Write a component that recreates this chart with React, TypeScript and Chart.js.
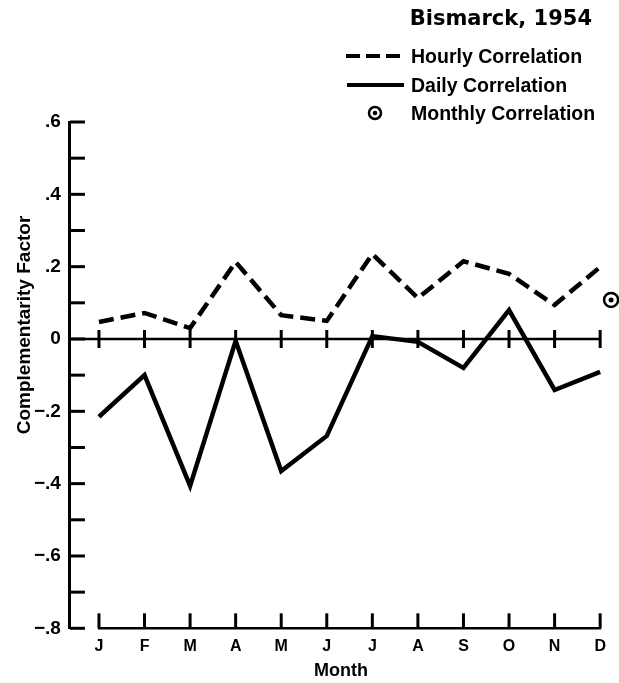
import React, { useEffect, useRef } from "react";
import { Chart, registerables } from "chart.js";

Chart.register(...registerables);

const months = ["J", "F", "M", "A", "M", "J", "J", "A", "S", "O", "N", "D"];
const hourly = [0.047, 0.072, 0.03, 0.213, 0.066, 0.05, 0.235, 0.113, 0.215, 0.18, 0.094, 0.199];
const daily = [-0.215, -0.1, -0.406, -0.005, -0.365, -0.268, 0.008, -0.008, -0.08, 0.08, -0.141, -0.091];
const monthlyX = [11.24];
const monthlyY = [0.108];
const yLabelValues = [0.6, 0.4, 0.2, 0, -0.2, -0.4, -0.6, -0.8];
const yLabelTexts = [".6", ".4", ".2", "0", "\u2212.2", "\u2212.4", "\u2212.6", "\u2212.8"];
const yMinorValues = [0.6, 0.5, 0.4, 0.3, 0.2, 0.1, 0, -0.1, -0.2, -0.3, -0.4, -0.5, -0.6, -0.7, -0.8];
const chartTitle = "Bismarck, 1954";
const legendLabels = ["Hourly Correlation", "Daily Correlation", "Monthly Correlation"];
const yTitle = "Complementarity Factor";
const xTitle = "Month";

const FAM = "'Liberation Sans', Arial, Helvetica, sans-serif";

const decorPlugin = {
  id: "decor",
  beforeDatasetsDraw(chart: any) {
    const { ctx, chartArea, scales } = chart;
    const x = scales.x;
    const y = scales.y;
    ctx.save();
    ctx.strokeStyle = "#000";
    ctx.lineCap = "butt";
    ctx.lineWidth = 3;
    yMinorValues.forEach((v) => {
      const py = y.getPixelForValue(v);
      ctx.beginPath();
      ctx.moveTo(chartArea.left, py);
      ctx.lineTo(chartArea.left + 15, py);
      ctx.stroke();
    });
    const y0 = y.getPixelForValue(0);
    const xStart = x.getPixelForValue(0);
    const xEnd = x.getPixelForValue(months.length - 1);
    ctx.lineWidth = 2.5;
    ctx.beginPath();
    ctx.moveTo(chartArea.left, y0);
    ctx.lineTo(xEnd, y0);
    ctx.stroke();
    ctx.lineWidth = 3;
    months.forEach((_, i) => {
      const px = x.getPixelForValue(i);
      ctx.beginPath();
      ctx.moveTo(px, y0 - 9);
      ctx.lineTo(px, y0 + 9);
      ctx.stroke();
    });
    const yb = y.getPixelForValue(-0.8);
    ctx.lineWidth = 2.5;
    ctx.beginPath();
    ctx.moveTo(xStart - 1, yb);
    ctx.lineTo(xEnd + 1, yb);
    ctx.stroke();
    ctx.lineWidth = 3;
    months.forEach((_, i) => {
      const px = x.getPixelForValue(i);
      ctx.beginPath();
      ctx.moveTo(px, yb);
      ctx.lineTo(px, yb - 15);
      ctx.stroke();
    });
    ctx.restore();
  },
  afterDraw(chart: any) {
    const { ctx } = chart;
    ctx.save();
    ctx.fillStyle = "#000";
    ctx.strokeStyle = "#000";
    ctx.font = "bold 21px 'DejaVu Sans', sans-serif";
    ctx.textAlign = "right";
    ctx.textBaseline = "alphabetic";
    ctx.fillText(chartTitle, 592, 25);
    ctx.font = `bold 19.5px ${FAM}`;
    ctx.textAlign = "left";
    const baselines = [63, 92, 120];
    legendLabels.forEach((t, i) => ctx.fillText(t, 411, baselines[i]));
    ctx.lineWidth = 4;
    ctx.setLineDash([14, 6]);
    ctx.beginPath();
    ctx.moveTo(346, 56);
    ctx.lineTo(404, 56);
    ctx.stroke();
    ctx.setLineDash([]);
    ctx.lineWidth = 4;
    ctx.beginPath();
    ctx.moveTo(347, 85);
    ctx.lineTo(404, 85);
    ctx.stroke();
    ctx.lineWidth = 2.5;
    ctx.beginPath();
    ctx.arc(375, 113, 6, 0, Math.PI * 2);
    ctx.stroke();
    ctx.beginPath();
    ctx.arc(375, 113, 2.3, 0, Math.PI * 2);
    ctx.fill();
    ctx.save();
    ctx.translate(29.5, 325);
    ctx.rotate(-Math.PI / 2);
    ctx.font = `bold 19px ${FAM}`;
    ctx.textAlign = "center";
    ctx.textBaseline = "alphabetic";
    ctx.fillText(yTitle, 0, 0);
    ctx.restore();
    ctx.restore();
  },
};

export default function App() {
  const ref = useRef<HTMLCanvasElement | null>(null);
  useEffect(() => {
    if (!ref.current) return;
    const chart = new Chart(ref.current, {
      type: "line",
      data: {
        datasets: [
          {
            label: legendLabels[0],
            data: hourly.map((v, i) => ({ x: i, y: v })),
            borderColor: "#000",
            borderWidth: 4.5,
            borderDash: [15, 7],
            pointRadius: 0,
            tension: 0,
            fill: false,
          },
          {
            label: legendLabels[1],
            data: daily.map((v, i) => ({ x: i, y: v })),
            borderColor: "#000",
            borderWidth: 4.5,
            pointRadius: 0,
            tension: 0,
            fill: false,
          },
          {
            label: legendLabels[2],
            data: monthlyX.map((v, i) => ({ x: v, y: monthlyY[i] })),
            showLine: false,
            pointRadius: 7,
            pointBorderWidth: 2.5,
            pointBorderColor: "#000",
            pointBackgroundColor: "rgba(0,0,0,0)",
            clip: false,
          } as any,
          {
            label: "dot",
            data: monthlyX.map((v, i) => ({ x: v, y: monthlyY[i] })),
            showLine: false,
            pointRadius: 2.5,
            pointBorderWidth: 0,
            pointBackgroundColor: "#000",
            clip: false,
          } as any,
        ],
      },
      options: {
        animation: false,
        responsive: false,
        maintainAspectRatio: false,
        layout: { autoPadding: false, padding: { top: 122, left: 25, right: 7, bottom: 0 } },
        plugins: {
          legend: { display: false },
          title: { display: false },
          tooltip: { enabled: false },
        },
        scales: {
          x: {
            type: "linear",
            min: -0.637,
            max: 11.26,
            afterBuildTicks: (s: any) => {
              s.ticks = months.map((_, i) => ({ value: i }));
            },
            ticks: {
              callback: (v: any) => months[v] ?? "",
              font: { family: FAM, weight: "bold", size: 16 },
              color: "#000",
              padding: 8.4,
              autoSkip: false,
              maxRotation: 0,
            },
            grid: { display: false, drawTicks: false, tickLength: 0 },
            border: { display: false },
            title: {
              display: true,
              text: xTitle,
              font: { family: FAM, weight: "bold", size: 18, lineHeight: 0.733 },
              color: "#000",
              padding: { top: 0, bottom: 5.5 },
            },
          },
          y: {
            type: "linear",
            min: -0.8,
            max: 0.6,
            afterBuildTicks: (s: any) => {
              s.ticks = yLabelValues.map((v) => ({ value: v }));
            },
            ticks: {
              callback: (v: any) => yLabelTexts[yLabelValues.indexOf(v)] ?? "",
              font: { family: FAM, weight: "bold", size: 19 },
              color: "#000",
              padding: 9,
              autoSkip: false,
            },
            grid: { display: false, drawTicks: false, tickLength: 0 },
            border: { display: true, color: "#000", width: 3 },
          },
        },
      } as any,
      plugins: [decorPlugin],
    });
    return () => chart.destroy();
  }, []);
  return (
    <div style={{ position: "absolute", left: 0, top: 0, width: 619, height: 683, background: "#fff" }}>
      <canvas ref={ref} width={619} height={683} style={{ width: 619, height: 683, display: "block" }} />
    </div>
  );
}
